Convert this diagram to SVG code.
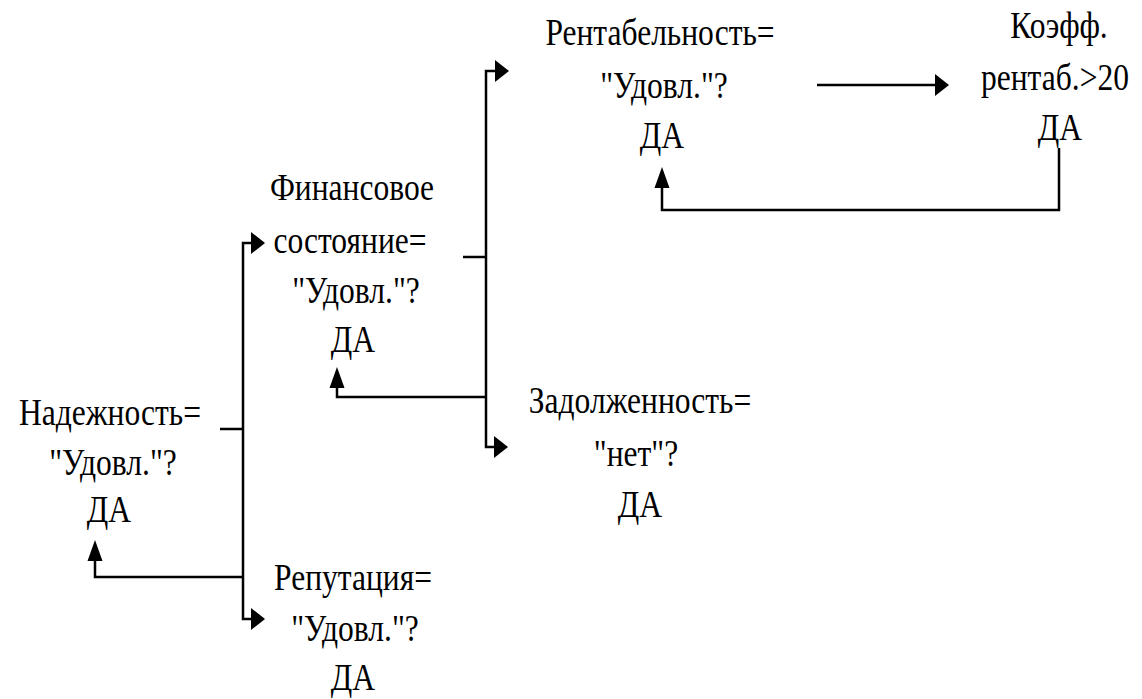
<svg xmlns="http://www.w3.org/2000/svg" width="1142" height="699" viewBox="0 0 1142 699">
<style>
.t{font-family:"Liberation Serif","DejaVu Serif",serif;font-size:38px;fill:#000;text-anchor:middle}
.c{fill:none;stroke:#000;stroke-width:2.5}
</style>
<defs>
<marker id="aR" markerUnits="userSpaceOnUse" markerWidth="14" markerHeight="22" viewBox="0 0 14 22" refX="0" refY="11" orient="auto" overflow="visible"><path d="M0,0 L14,11 L0,22 z" fill="#000"/></marker>
<marker id="aU" markerUnits="userSpaceOnUse" markerWidth="21" markerHeight="15" viewBox="0 0 21 15" refX="0" refY="7.5" orient="auto" overflow="visible"><path d="M0,0 L21,7.5 L0,15 z" fill="#000"/></marker>
</defs>
<rect width="1142" height="699" fill="#fff"/>
<g id="connectors">
<path class="c" d="M220,429 H243"/>
<path class="c" d="M243,429 V243 H251" marker-end="url(#aR)"/>
<path class="c" d="M243,429 V619 H251" marker-end="url(#aR)"/>
<path class="c" d="M243,577 H95 V561" marker-end="url(#aU)"/>
<path class="c" d="M463,257 H486"/>
<path class="c" d="M486,257 V71 H495" marker-end="url(#aR)"/>
<path class="c" d="M486,257 V447 H494" marker-end="url(#aR)"/>
<path class="c" d="M486,397 H337 V388" marker-end="url(#aU)"/>
<path class="c" d="M817,85 H935" marker-end="url(#aR)"/>
<path class="c" d="M1059,148 V210 H662 V188" marker-end="url(#aU)"/>
</g>
<g id="n-nadezhnost" class="t">
<text x="110" y="425" transform="translate(110 0) scale(0.83 1) translate(-110 0)">Надежность=</text>
<text x="113" y="475" transform="translate(113 0) scale(0.83 1) translate(-113 0)">"Удовл."?</text>
<text x="109" y="522" transform="translate(109 0) scale(0.83 1) translate(-109 0)">ДА</text>
</g>
<g id="n-finans" class="t">
<text x="352" y="200" transform="translate(352 0) scale(0.83 1) translate(-352 0)">Финансовое</text>
<text x="350" y="253" transform="translate(350 0) scale(0.83 1) translate(-350 0)">состояние=</text>
<text x="356" y="303" transform="translate(356 0) scale(0.83 1) translate(-356 0)">"Удовл."?</text>
<text x="353" y="352" transform="translate(353 0) scale(0.83 1) translate(-353 0)">ДА</text>
</g>
<g id="n-rentab" class="t">
<text x="660" y="45" transform="translate(660 0) scale(0.83 1) translate(-660 0)">Рентабельность=</text>
<text x="664" y="98" transform="translate(664 0) scale(0.83 1) translate(-664 0)">"Удовл."?</text>
<text x="662" y="148" transform="translate(662 0) scale(0.83 1) translate(-662 0)">ДА</text>
</g>
<g id="n-koeff" class="t">
<text x="1059" y="38" transform="translate(1059 0) scale(0.83 1) translate(-1059 0)">Коэфф.</text>
<text x="1055" y="90" transform="translate(1055 0) scale(0.83 1) translate(-1055 0)">рентаб.&gt;20</text>
<text x="1060" y="140" transform="translate(1060 0) scale(0.83 1) translate(-1060 0)">ДА</text>
</g>
<g id="n-zadolzh" class="t">
<text x="640" y="413" transform="translate(640 0) scale(0.83 1) translate(-640 0)">Задолженность=</text>
<text x="636" y="466" transform="translate(636 0) scale(0.83 1) translate(-636 0)">"нет"?</text>
<text x="640" y="517" transform="translate(640 0) scale(0.83 1) translate(-640 0)">ДА</text>
</g>
<g id="n-reput" class="t">
<text x="353" y="590" transform="translate(353 0) scale(0.83 1) translate(-353 0)">Репутация=</text>
<text x="355" y="641" transform="translate(355 0) scale(0.83 1) translate(-355 0)">"Удовл."?</text>
<text x="353" y="690" transform="translate(353 0) scale(0.83 1) translate(-353 0)">ДА</text>
</g>
</svg>
